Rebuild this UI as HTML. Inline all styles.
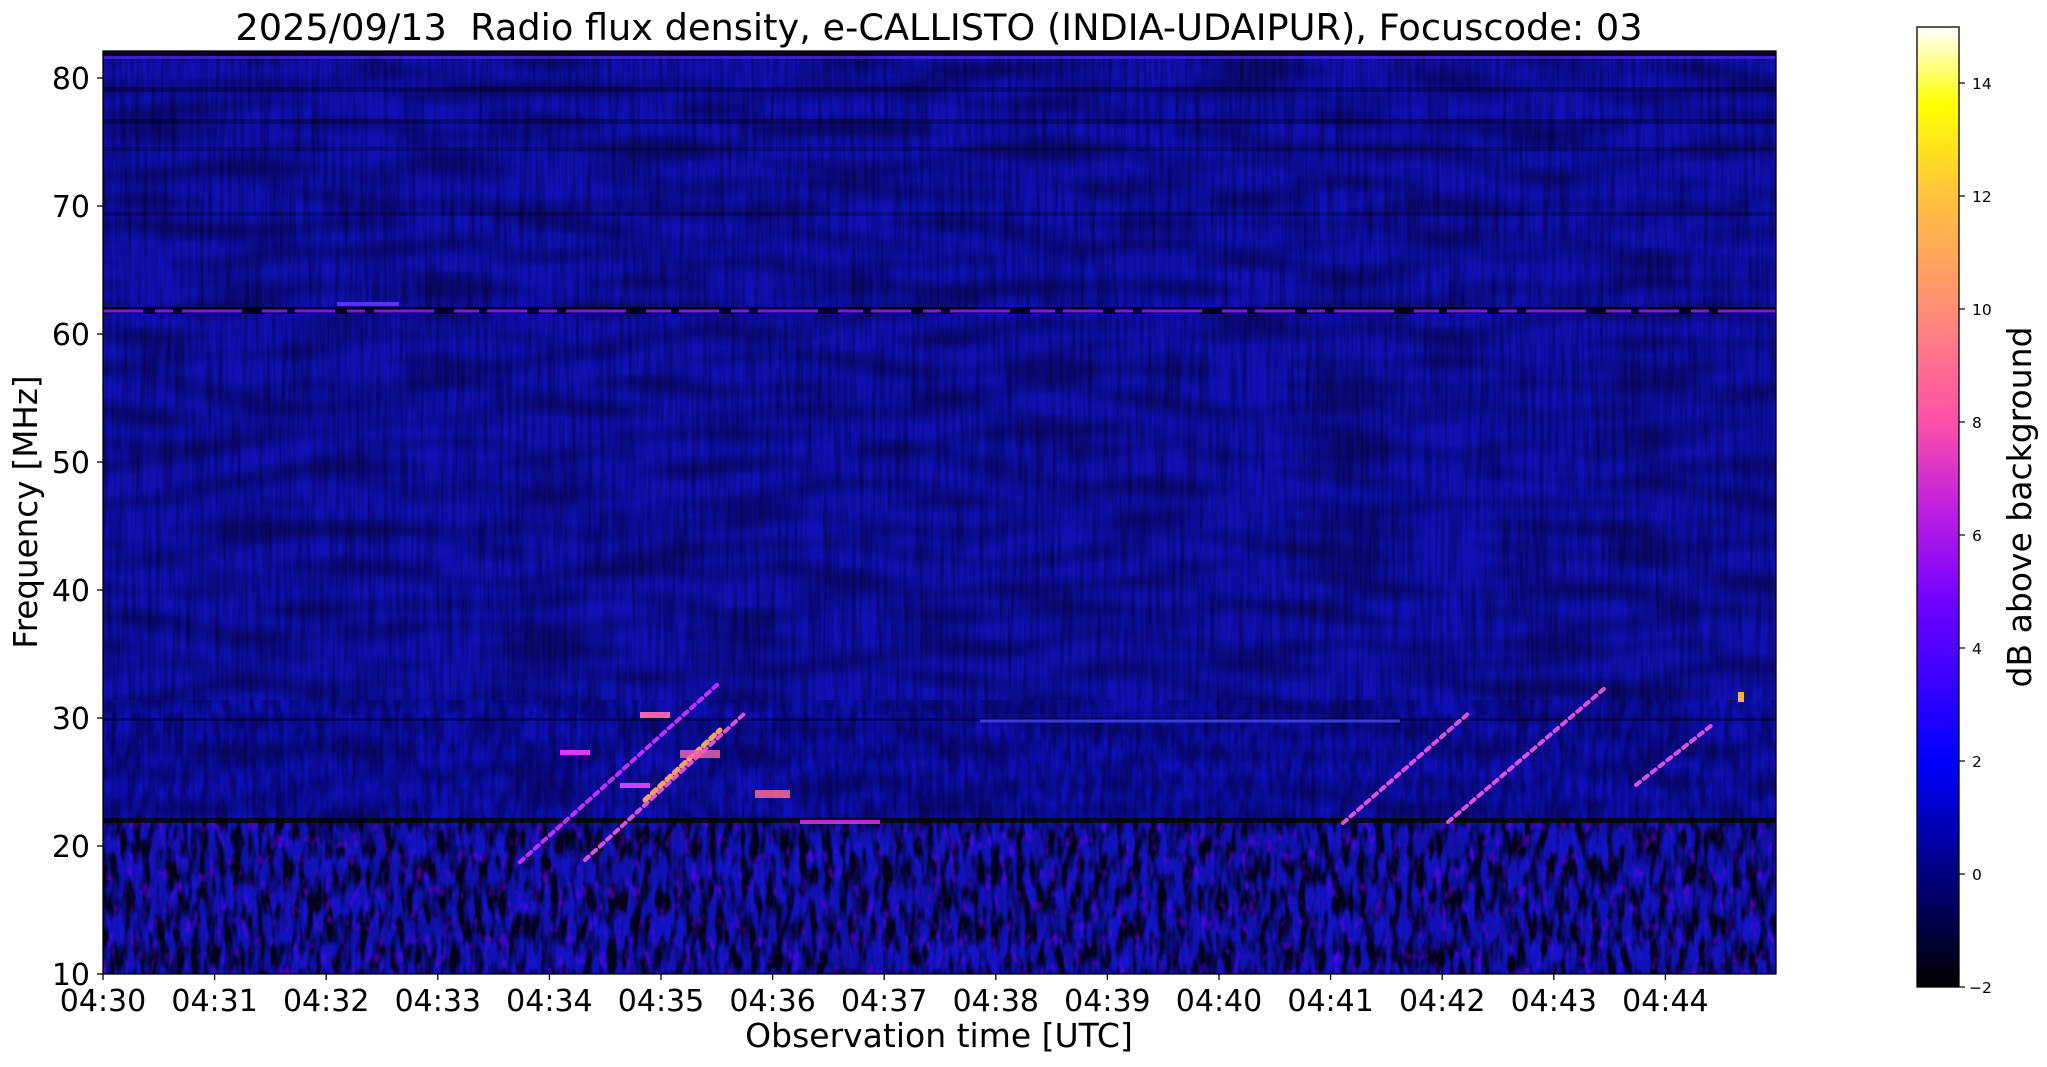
<!DOCTYPE html>
<html><head><meta charset="utf-8"><style>
html,body{margin:0;padding:0;background:#fff;}
svg{display:block;font-family:"DejaVu Sans","Liberation Sans",sans-serif;}
</style></head><body>
<svg width="2047" height="1067" viewBox="0 0 2047 1067" xmlns="http://www.w3.org/2000/svg">
<defs>
<linearGradient id="cb" x1="0" y1="1" x2="0" y2="0">
<stop offset="0" stop-color="#000000"/>
<stop offset="0.118" stop-color="#000080"/>
<stop offset="0.235" stop-color="#0000ff"/>
<stop offset="0.40" stop-color="#7000ff"/>
<stop offset="0.50" stop-color="#c020e0"/>
<stop offset="0.59" stop-color="#ff50a8"/>
<stop offset="0.70" stop-color="#ff8a78"/>
<stop offset="0.82" stop-color="#ffc040"/>
<stop offset="0.92" stop-color="#ffff00"/>
<stop offset="1" stop-color="#ffffff"/>
</linearGradient>
<filter id="streak" x="0" y="0" width="100%" height="100%">
<feTurbulence type="fractalNoise" baseFrequency="0.25 0.012" numOctaves="2" seed="3"/>
<feColorMatrix type="matrix" values="0 0 0 0 0  0 0 0 0 0  0 0 0 0 0  0 0 0 -2.2 1.35"/>
</filter>
<filter id="wave" x="0" y="0" width="100%" height="100%">
<feTurbulence type="fractalNoise" baseFrequency="0.01 0.05" numOctaves="1" seed="5"/>
<feColorMatrix type="matrix" values="0 0 0 0 0  0 0 0 0 0  0 0 0 0 0  0 0 0 -3 1.8"/>
</filter>
<filter id="blob" x="0" y="0" width="100%" height="100%">
<feTurbulence type="fractalNoise" baseFrequency="0.12 0.035" numOctaves="2" seed="7"/>
<feColorMatrix type="matrix" values="0 0 0 0 0  0 0 0 0 0  0 0 0 0 0  0 0 0 -3.5 2.1"/>
</filter>
<filter id="bright" x="0" y="0" width="100%" height="100%">
<feTurbulence type="fractalNoise" baseFrequency="0.12 0.06" numOctaves="2" seed="11"/>
<feColorMatrix type="matrix" values="0 0 0 0 0.2  0 0 0 0 0  0 0 0 0 1  0 0 0 4 -2.3"/>
</filter>
<clipPath id="pa"><rect x="103" y="51" width="1673" height="923"/></clipPath>
</defs>

<g clip-path="url(#pa)">
<rect x="103" y="51" width="1673" height="923" fill="#1010b4"/>
<rect x="103" y="51" width="1673" height="923" filter="url(#streak)" opacity="0.4"/>
<rect x="103" y="51" width="1673" height="923" filter="url(#wave)" opacity="0.35"/>
<rect x="103" y="820" width="1673" height="154" fill="#1818e0" opacity="0.5"/>
<rect x="103" y="820" width="1673" height="154" filter="url(#blob)" opacity="0.85"/>
<rect x="103" y="820" width="1673" height="154" filter="url(#bright)" opacity="0.5"/>
<rect x="103" y="700" width="1673" height="120" filter="url(#blob)" opacity="0.4"/>
<rect x="103" y="700" width="1673" height="120" fill="#1010e0" opacity="0.2"/>
<rect x="103" y="51" width="1673" height="5" fill="#000" opacity="0.7"/>
<rect x="103" y="56" width="1673" height="3" fill="#7030ff" opacity="0.5"/>
<rect x="103" y="87" width="1673" height="5" fill="#000" opacity="0.3"/>
<rect x="103" y="119" width="1673" height="5" fill="#000" opacity="0.3"/>
<rect x="103" y="147" width="1673" height="4" fill="#000" opacity="0.25"/>
<rect x="103" y="212" width="1673" height="4" fill="#000" opacity="0.25"/>
<rect x="103" y="307" width="1673" height="7" fill="#000" opacity="0.9"/>
<line x1="103" y1="311" x2="1776" y2="311" stroke="#8a22ff" stroke-width="3" stroke-dasharray="40 12 18 9 60 20 25 8" opacity="0.85"/>
<rect x="337" y="302" width="62" height="4" fill="#5a30ff"/>
<rect x="103" y="718" width="1673" height="3" fill="#000" opacity="0.4"/>
<rect x="103" y="818" width="1673" height="5" fill="#000" opacity="0.7"/>
<line x1="980" y1="721" x2="1400" y2="721" stroke="#5050ff" stroke-width="3" opacity="0.7"/>
<line x1="800" y1="822" x2="880" y2="822" stroke="#d040ff" stroke-width="4" opacity="0.8"/>
<g stroke-linecap="round" stroke-dasharray="5 5">
<line x1="520" y1="862" x2="718" y2="684" stroke="#c030ff" stroke-width="4"/>
<line x1="585" y1="860" x2="745" y2="713" stroke="#e050e0" stroke-width="4"/>
<line x1="645" y1="800" x2="720" y2="730" stroke="#ffa060" stroke-width="5"/>
<line x1="1343" y1="823" x2="1470" y2="712" stroke="#e050e0" stroke-width="4"/>
<line x1="1448" y1="822" x2="1605" y2="688" stroke="#e050e0" stroke-width="4"/>
<line x1="1636" y1="785" x2="1712" y2="725" stroke="#e050e0" stroke-width="4"/>
</g>
<rect x="640" y="712" width="30" height="6" fill="#ff60b0"/>
<rect x="680" y="750" width="40" height="8" fill="#ff60b0" opacity="0.8"/>
<rect x="755" y="790" width="35" height="8" fill="#ff70a0" opacity="0.8"/>
<rect x="560" y="750" width="30" height="5" fill="#d040ff"/>
<rect x="620" y="783" width="30" height="5" fill="#d040ff"/>
<rect x="1738" y="692" width="6" height="10" fill="#ffb040"/>
</g>
<rect x="103" y="51" width="1673" height="923" fill="none" stroke="#000" stroke-width="1.3"/>

<g stroke="#000" stroke-width="1.3">
<line x1="97" y1="974" x2="103" y2="974"/><line x1="97" y1="846" x2="103" y2="846"/>
<line x1="97" y1="718" x2="103" y2="718"/><line x1="97" y1="590" x2="103" y2="590"/>
<line x1="97" y1="462" x2="103" y2="462"/><line x1="97" y1="334" x2="103" y2="334"/>
<line x1="97" y1="206" x2="103" y2="206"/><line x1="97" y1="78" x2="103" y2="78"/>
</g>
<g font-size="30" text-anchor="end" fill="#000">
<text x="90" y="985">10</text><text x="90" y="857">20</text><text x="90" y="729">30</text>
<text x="90" y="601">40</text><text x="90" y="473">50</text><text x="90" y="345">60</text>
<text x="90" y="217">70</text><text x="90" y="89">80</text>
</g>
<g stroke="#000" stroke-width="1.3">
<line x1="103" y1="974" x2="103" y2="980"/><line x1="214.6" y1="974" x2="214.6" y2="980"/>
<line x1="326.2" y1="974" x2="326.2" y2="980"/><line x1="437.8" y1="974" x2="437.8" y2="980"/>
<line x1="549.4" y1="974" x2="549.4" y2="980"/><line x1="661" y1="974" x2="661" y2="980"/>
<line x1="772.6" y1="974" x2="772.6" y2="980"/><line x1="884.2" y1="974" x2="884.2" y2="980"/>
<line x1="995.8" y1="974" x2="995.8" y2="980"/><line x1="1107.4" y1="974" x2="1107.4" y2="980"/>
<line x1="1219" y1="974" x2="1219" y2="980"/><line x1="1330.6" y1="974" x2="1330.6" y2="980"/>
<line x1="1442.2" y1="974" x2="1442.2" y2="980"/><line x1="1553.8" y1="974" x2="1553.8" y2="980"/>
<line x1="1665.4" y1="974" x2="1665.4" y2="980"/>
</g>
<g font-size="30" text-anchor="middle" fill="#000">
<text x="103" y="1011">04:30</text><text x="214.6" y="1011">04:31</text><text x="326.2" y="1011">04:32</text>
<text x="437.8" y="1011">04:33</text><text x="549.4" y="1011">04:34</text><text x="661" y="1011">04:35</text>
<text x="772.6" y="1011">04:36</text><text x="884.2" y="1011">04:37</text><text x="995.8" y="1011">04:38</text>
<text x="1107.4" y="1011">04:39</text><text x="1219" y="1011">04:40</text><text x="1330.6" y="1011">04:41</text>
<text x="1442.2" y="1011">04:42</text><text x="1553.8" y="1011">04:43</text><text x="1665.4" y="1011">04:44</text>
</g>
<text x="939" y="1047" font-size="33" text-anchor="middle">Observation time [UTC]</text>
<text transform="translate(37,512) rotate(-90)" font-size="32.5" text-anchor="middle">Frequency [MHz]</text>
<text x="939" y="40" font-size="36.7" text-anchor="middle" xml:space="preserve">2025/09/13  Radio flux density, e-CALLISTO (INDIA-UDAIPUR), Focuscode: 03</text>

<rect x="1917" y="27" width="42" height="960" fill="url(#cb)" stroke="#000" stroke-width="1.3"/>
<g stroke="#000" stroke-width="1.2">
<line x1="1959" y1="987" x2="1965" y2="987"/><line x1="1959" y1="874" x2="1965" y2="874"/>
<line x1="1959" y1="761" x2="1965" y2="761"/><line x1="1959" y1="648" x2="1965" y2="648"/>
<line x1="1959" y1="535" x2="1965" y2="535"/><line x1="1959" y1="422" x2="1965" y2="422"/>
<line x1="1959" y1="309" x2="1965" y2="309"/><line x1="1959" y1="196" x2="1965" y2="196"/>
<line x1="1959" y1="83" x2="1965" y2="83"/>
</g>
<g font-size="15.5" fill="#000">
<text x="1969" y="993">−2</text><text x="1972" y="880">0</text><text x="1972" y="767">2</text>
<text x="1972" y="654">4</text><text x="1972" y="541">6</text><text x="1972" y="428">8</text>
<text x="1972" y="315">10</text><text x="1972" y="202">12</text><text x="1972" y="89">14</text>
</g>
<text transform="translate(2031,507) rotate(-90)" font-size="33" text-anchor="middle">dB above background</text>
</svg>
</body></html>
